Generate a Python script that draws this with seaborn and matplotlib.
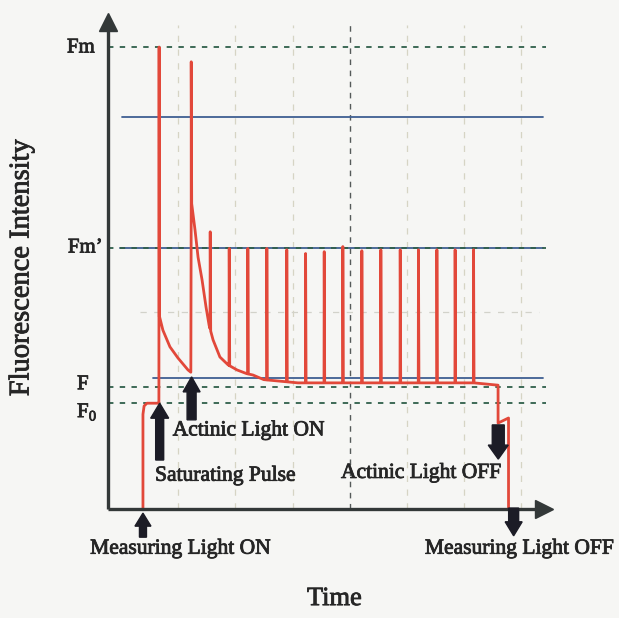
import numpy as np
import pandas as pd
import matplotlib
matplotlib.use("Agg")
import matplotlib.pyplot as plt
import matplotlib.patheffects as pe
import seaborn as sns

# ---------------- data (time in s, fluorescence in a.u.) ----------------
# underlying trace between the saturating pulses
base_t = [18.4, 18.4, 19.0, 20.5, 26.6, 27.0, 28.9, 32.6, 36.8, 42.1, 43.6,
          43.8, 45.8, 47.4, 49.5, 51.6, 53.2, 55.3, 58.9, 63.2, 67.9, 73.0,
          76.3, 82.0, 100.0, 205.3, 205.3, 210.8, 210.8]
base_i = [0.0, 20.5, 22.3, 22.9, 22.9, 41.6, 38.7, 35.1, 32.7, 30.1, 29.6,
          66.9, 60.4, 54.5, 49.6, 43.7, 39.8, 36.6, 32.9, 31.2, 30.1, 29.3,
          29.0, 28.0, 27.3, 26.8, 18.6, 19.7, 0.0]
# saturating pulses
pulse_t = [26.8, 43.7, 53.7, 63.7, 73.5, 83.5, 94.0, 103.9, 113.7, 123.5,
           133.5, 143.5, 153.7, 163.3, 173.0, 182.6, 192.3]
pulse_peak = [100.0, 96.8, 60.0, 56.4, 56.4, 56.4, 56.1, 55.3, 55.7, 56.8,
              55.9, 56.1, 56.1, 56.1, 56.1, 56.1, 56.1]

# reference levels
level_labels = ["Fm", "Fm\u2019", "F", r"F$_\mathregular{0}$"]
level_values = [100.0, 56.5, 26.4, 22.9]
blue_levels = [84.8, 56.5, 28.4]
grid_times = [36.8, 66.8, 97.4, 127.4, 157.4, 187.4, 217.4]

# event annotations: (label, time, tail, tip)
event_labels = ["Measuring Light ON", "Saturating Pulse", "Actinic Light ON",
                "Actinic Light OFF", "Measuring Light OFF"]
event_t = [18.4, 27.2, 44.0, 205.4, 213.5]
event_tail = [-6.1, 10.6, 19.3, 18.2, 0.2]
event_tip = [-0.9, 22.9, 28.6, 10.8, -5.8]

# ---------------- build trace ----------------
bt = np.array(base_t)
bi = np.array(base_i)
pw = 0.35
pts_t, pts_i = list(bt), list(bi)
for tp, pk in zip(pulse_t, pulse_peak):
    pts_t += [tp - 0.01, tp + 0.1, tp + pw]
    pts_i += [np.interp(tp - 0.01, bt[5:25], bi[5:25]) if tp > 27.5 else 22.9,
              pk, np.interp(tp + pw, bt[5:25], bi[5:25]) if tp > 27.5 else 41.6]
pts_t = np.array(pts_t)
pts_i = np.array(pts_i)
idx = np.argsort(pts_t, kind="stable")
trace = pd.DataFrame({"t": pts_t[idx], "I": pts_i[idx]})

# ---------------- figure ----------------
sns.set_style("white")
plt.rcParams["font.family"] = ["Liberation Serif", "DejaVu Serif"]
plt.rcParams["mathtext.fontset"] = "custom"
plt.rcParams["mathtext.rm"] = "Liberation Serif"

W, H = 619, 618
fig = plt.figure(figsize=(W / 100, H / 100), dpi=100)
bg = "#f6f6f4"
fig.patch.set_facecolor(bg)
ax = fig.add_axes([0, 0, 1, 1])
ax.set_facecolor(bg)
sx, sy = 1.9, 4.62          # px per unit
x0, y0 = 108, 509           # origin pixel
ax.set_xlim(-x0 / sx, (W - x0) / sx)
ax.set_ylim(-(H - y0) / sy, y0 / sy)
ax.axis("off")

txt = "#262626"
red = "#e2483a"
blue = "#3f5f92"
green = "#2f5f4a"
stroke = [pe.withStroke(linewidth=0.6, foreground=txt)]

# grid
for gt in grid_times:
    dark = abs(gt - 127.4) < 1
    ax.plot([gt, gt], [0, 104.8], ls=(0, (4, 4)) if dark else (0, (5, 6)),
            color="#555a5a" if dark else "#d6d4c4", lw=1.0 if dark else 0.9, zorder=1)
ax.plot([16.8, 227], [42.6, 42.6], ls=(0, (5, 6)), color="#d2d2ca", lw=0.9, zorder=1)

# blue reference lines
blue_start = [7.4, 6.3, 23.7]
for bv, bs in zip(blue_levels, blue_start):
    ax.plot([bs, 229], [bv, bv], color=blue, lw=1.3, zorder=2)

# dashed levels
for lab, lv in zip(level_labels, level_values):
    ax.plot([0, 230.5], [lv, lv], ls=(0, (3, 3.5)), color=green, lw=1.3, zorder=2)

# trace
sns.lineplot(data=trace, x="t", y="I", sort=False, estimator=None, color=red,
             lw=2.0, ax=ax, zorder=4)

# axes arrows
ax.plot([0, 0], [0, 104], color="#333838", lw=2.4, zorder=5, solid_capstyle="butt")
ax.plot([0, 228], [0, 0], color="#333838", lw=2.4, zorder=5, solid_capstyle="butt")
ax.plot([0], [105.5], marker="^", ms=13, color="#333838", zorder=5)
ax.plot([229.5], [0], marker=">", ms=13, color="#333838", zorder=5)

# block arrows
shaft = [7, 8, 9, 12, 10]
headw = [16, 18, 17, 20, 17]
headl = [13, 15, 15, 14, 14]
for t, tl, tp, s, hw, hl in zip(event_t, event_tail, event_tip, shaft, headw, headl):
    ax.arrow(t, tl, 0, tp - tl, width=s / sx, head_width=hw / sx,
             head_length=hl / sy, length_includes_head=True,
             color="#1c1c26", zorder=6)

# level labels
lab_pos = [(-21.6, 99.8), (-21.1, 56.5), (-16.3, 26.9), (-16.3, 21.0)]
for lab, (lx, ly) in zip(level_labels, lab_pos):
    ax.text(lx, ly, lab, ha="left", va="center", fontsize=15, color=txt,
            path_effects=stroke)

# event labels
ev_pos = [(37.9, -8.7), (61.6, 7.1), (73.9, 16.9), (164.7, 7.7), (216.3, -8.7)]
for lab, (lx, ly) in zip(event_labels, ev_pos):
    ax.text(lx, ly, lab, ha="center", va="center", fontsize=15.5, color=txt,
            zorder=7, path_effects=stroke)

ax.text(119.2, -19.5, "Time", ha="center", va="center", fontsize=19, color=txt,
        path_effects=stroke)
ax.text(-45.3, 52.2, "Fluorescence Intensity", ha="center", va="center",
        rotation=90, fontsize=20.5, color=txt, path_effects=stroke)

fig.savefig("out.png", dpi=100, facecolor=bg)
